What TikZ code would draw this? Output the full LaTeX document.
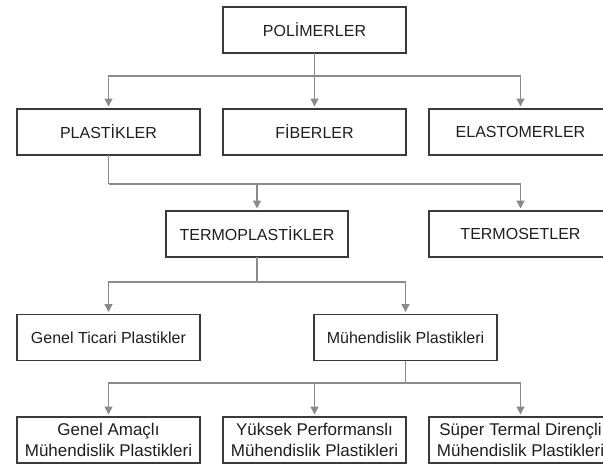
\documentclass[tikz,border=0pt]{standalone}
\usepackage{fontspec}
\setmainfont{Liberation Sans}
\usetikzlibrary{arrows.meta}
\definecolor{boxline}{HTML}{3A3A3A}
\definecolor{connline}{HTML}{8A8A8A}
\definecolor{txt}{HTML}{1E1E1E}
\tikzset{
  box/.style={draw=boxline, line width=1.6pt, minimum width=183pt, minimum height=46pt,
    inner sep=0pt, outer sep=0pt, text=txt, font=\fontsize{16}{19}\selectfont, align=center},
  twobox/.style={box, font=\fontsize{17}{21}\selectfont},
  conn/.style={draw=connline, line width=1.3pt},
  arr/.style={conn, -{Triangle[width=8pt,length=8pt]}, shorten >=2.5pt}
}
\begin{document}
\begin{tikzpicture}[x=1pt,y=-1pt]
\useasboundingbox (0,0) rectangle (603,466);
\clip (0,0) rectangle (603,466);
% nodes
\node[box] (pol) at (314.5,30) {POLİMERLER};
\node[box] (plas) at (108.5,132) {PLASTİKLER};
\node[box] (fib) at (314.5,132) {FİBERLER};
\node[box] (elas) at (520.5,132) {ELASTOMERLER};
\node[box, minimum width=182pt] (termp) at (257,234) {TERMOPLASTİKLER};
\node[box] (termo) at (520.5,234) {TERMOSETLER};
\node[box] (gen) at (108.5,337.5) {Genel Ticari Plastikler};
\node[box] (muh) at (405.5,337.5) {Mühendislik Plastikleri};
\node[twobox] (ga) at (108.5,440) {Genel Amaçlı\\Mühendislik Plastikleri};
\node[twobox] (yp) at (314.5,440) {Yüksek Performanslı\\Mühendislik Plastikleri};
\node[twobox] (st) at (520.5,440) {Süper Termal Dirençli\\Mühendislik Plastikleri};
% junctions
\coordinate (j1) at (pol.south |- 0,76);
\coordinate (j2) at (plas.south |- 0,184);
\coordinate (j3) at (termp.south |- 0,282);
\coordinate (j4) at (muh.south |- 0,383);
% connectors
\draw[arr] (pol.south) -- (fib.north);
\draw[arr] (j1) -| (plas.north);
\draw[arr] (j1) -| (elas.north);
\draw[conn] (plas.south) -- (j2);
\draw[arr] (j2) -| (termp.north);
\draw[arr] (j2) -| (termo.north);
\draw[conn] (termp.south) -- (j3);
\draw[arr] (j3) -| (gen.north);
\draw[arr] (j3) -| (muh.north);
\draw[conn] (muh.south) -- (j4);
\draw[arr] (j4) -| (yp.north);
\draw[arr] (j4) -| (ga.north);
\draw[arr] (j4) -| (st.north);
\end{tikzpicture}
\end{document}
